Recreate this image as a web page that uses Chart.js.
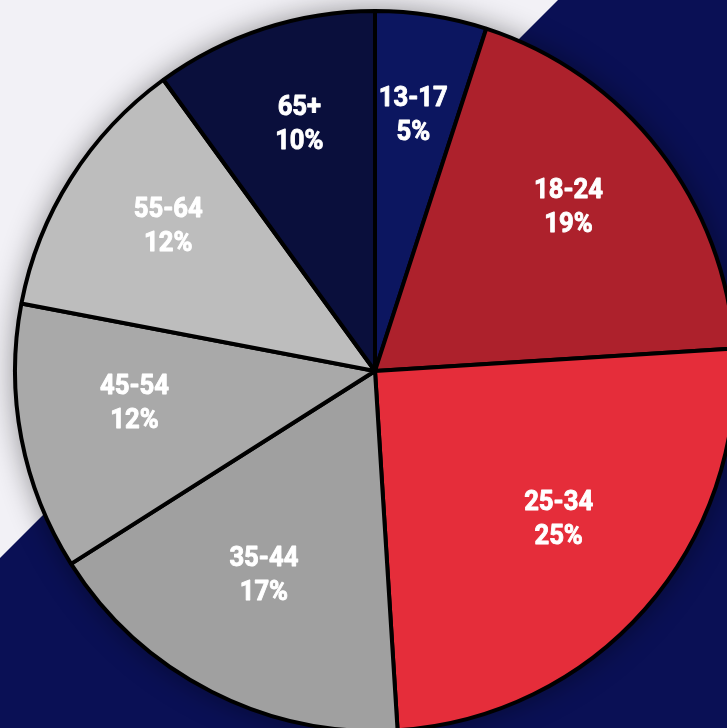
<!DOCTYPE html>
<html>
<head>
<meta charset="utf-8">
<script src="https://cdn.jsdelivr.net/npm/chart.js@4.4.1/dist/chart.umd.min.js"></script>
<style>
  html, body { margin: 0; padding: 0; overflow: hidden; width: 727px; height: 728px; background: #f2f1f6; }
  #wrap { position: absolute; left: 0; top: 0; width: 750px; height: 742px; }
</style>
</head>
<body>
<div id="wrap"><canvas id="c"></canvas></div>
<script>
const categories = ['13-17', '18-24', '25-34', '35-44', '45-54', '55-64', '65+'];
const shares = [5, 19, 25, 17, 12, 12, 10];
const sliceColors = ['#0c1660', '#ad212c', '#e52d3a', '#a0a0a0', '#a9a9a9', '#bdbdbd', '#0a0f3c'];

const bgPlugin = {
  id: 'bg',
  beforeDraw(chart) {
    const ctx = chart.ctx;
    ctx.save();
    ctx.fillStyle = '#f2f1f6';
    ctx.fillRect(0, 0, chart.width, chart.height);
    ctx.fillStyle = '#0a1055';
    ctx.beginPath();
    ctx.moveTo(558, 0);
    ctx.lineTo(chart.width + 10, 0);
    ctx.lineTo(chart.width + 10, chart.height + 10);
    ctx.lineTo(0, chart.height + 10);
    ctx.lineTo(0, 558);
    ctx.closePath();
    ctx.fill();
    ctx.restore();
  },
  beforeDatasetsDraw(chart) {
    const arc = chart.getDatasetMeta(0).data[0];
    if (!arc) return;
    const ctx = chart.ctx;
    ctx.save();
    ctx.shadowColor = 'rgba(0,0,0,0.45)';
    ctx.shadowBlur = 30;
    ctx.fillStyle = '#000';
    ctx.beginPath();
    ctx.arc(arc.x, arc.y, arc.outerRadius, 0, Math.PI * 2);
    ctx.fill();
    ctx.restore();
  }
};

const labelPlugin = {
  id: 'sliceLabels',
  afterDatasetsDraw(chart) {
    const ctx = chart.ctx;
    const meta = chart.getDatasetMeta(0);
    ctx.save();
    ctx.fillStyle = '#ffffff';
    ctx.strokeStyle = '#ffffff';
    ctx.lineWidth = 0.9;
    ctx.lineJoin = 'round';
    ctx.font = 'bold 27px Roboto, "Liberation Sans", sans-serif';
    ctx.textAlign = 'center';
    ctx.textBaseline = 'middle';
    meta.data.forEach((arc, i) => {
      const p = arc.getProps(['x', 'y', 'startAngle', 'endAngle', 'outerRadius'], true);
      const mid = (p.startAngle + p.endAngle) / 2;
      const r = p.outerRadius * 0.68;
      const x = p.x + Math.cos(mid) * r;
      const y = p.y + Math.sin(mid) * r - 13;
      ctx.save();
      ctx.translate(x, y);
      ctx.scale(0.95, 1);
      ctx.fillText(categories[i], 0, -17);
      ctx.strokeText(categories[i], 0, -17);
      ctx.fillText(shares[i] + '%', 0, 17);
      ctx.strokeText(shares[i] + '%', 0, 17);
      ctx.restore();
    });
    ctx.restore();
  }
};

new Chart(document.getElementById('c'), {
  type: 'pie',
  data: {
    labels: categories,
    datasets: [{
      data: shares,
      backgroundColor: sliceColors,
      borderColor: '#000000',
      borderWidth: 4
    }]
  },
  options: {
    responsive: true,
    maintainAspectRatio: false,
    animation: false,
    layout: { padding: { top: 9, bottom: 9, left: 13, right: 13 } },
    plugins: {
      legend: { display: false },
      tooltip: { enabled: false }
    }
  },
  plugins: [bgPlugin, labelPlugin]
});
</script>
</body>
</html>
